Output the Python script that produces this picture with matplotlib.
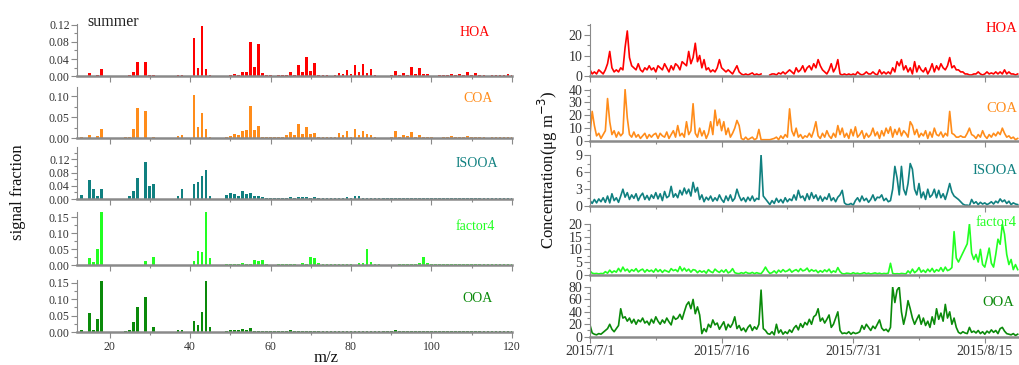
import numpy as np
import pandas as pd
import matplotlib
matplotlib.use('Agg')
import matplotlib.pyplot as plt
import matplotlib.dates as mdates
from matplotlib.ticker import FixedLocator, MultipleLocator, FuncFormatter, NullFormatter

plt.rcParams['font.family'] = ['Liberation Serif', 'DejaVu Serif']

# ---------------- data: mass spectra (m/z 12..120) ----------------
mz = list(range(12, 121))

hoa_ms = [
    0.001, 0.001, 0, 0.007, 0, 0.004, 0.016, 0, 0, 0,
    0, 0, 0.001, 0.002, 0.010, 0.033, 0, 0.034, 0.002, 0.004,
    0, 0, 0, 0, 0, 0.003, 0.004, 0, 0, 0.088,
    0.019, 0.117, 0.017, 0.004, 0, 0, 0, 0.001, 0.003, 0.005,
    0.003, 0.009, 0.009, 0.080, 0.021, 0.076, 0.008, 0.002, 0.002, 0,
    0.002, 0.003, 0.003, 0.009, 0.003, 0.027, 0.009, 0.044, 0.012, 0.032,
    0.004, 0.004, 0.003, 0, 0.002, 0.008, 0.005, 0.014, 0.005, 0.026,
    0.009, 0.028, 0.007, 0.016, 0.002, 0.001, 0, 0, 0.002, 0.012,
    0.003, 0.008, 0.004, 0.022, 0.006, 0.020, 0.005, 0.005, 0.001, 0,
    0.002, 0.003, 0.002, 0.006, 0.003, 0.005, 0.002, 0.011, 0.003, 0.007,
    0.002, 0.002, 0, 0.002, 0.002, 0.002, 0.003, 0.006, 0.002]

coa_ms = [
    0, 0.004, 0, 0.009, 0, 0.005, 0.021, 0, 0, 0,
    0, 0, 0.002, 0.004, 0.023, 0.072, 0, 0.065, 0.001, 0.004,
    0, 0, 0, 0, 0, 0.006, 0.009, 0, 0, 0.103,
    0.027, 0.061, 0.021, 0.004, 0, 0, 0.001, 0.002, 0.006, 0.010,
    0.007, 0.017, 0.019, 0.078, 0.020, 0.030, 0.004, 0.002, 0.004, 0.002,
    0.002, 0.004, 0.008, 0.015, 0.007, 0.033, 0.011, 0.026, 0.010, 0.013,
    0.003, 0.004, 0.002, 0.002, 0.002, 0.012, 0.009, 0.018, 0.004, 0.023,
    0.008, 0.017, 0.010, 0.008, 0.002, 0.001, 0.001, 0.001, 0.002, 0.017,
    0.004, 0.009, 0.005, 0.014, 0.004, 0.009, 0.004, 0.003, 0.002, 0.001,
    0.001, 0.002, 0.002, 0.005, 0.002, 0.004, 0.002, 0.005, 0.002, 0.003,
    0.002, 0.002, 0.001, 0.004, 0.002, 0.004, 0.002, 0.004, 0.002]

isooa_ms = [
    0, 0.012, 0, 0.056, 0.031, 0.009, 0.029, 0, 0, 0,
    0, 0, 0, 0.010, 0.023, 0.063, 0, 0.113, 0.039, 0.045,
    0, 0, 0, 0, 0, 0.010, 0.030, 0, 0, 0.045,
    0.050, 0.070, 0.088, 0.008, 0, 0, 0, 0.012, 0.017, 0.014,
    0.010, 0.023, 0.014, 0.018, 0.010, 0.008, 0.005, 0.004, 0.003, 0.002,
    0.002, 0.003, 0.003, 0.007, 0.004, 0.006, 0.005, 0.006, 0.004, 0.006,
    0.003, 0.003, 0.003, 0.003, 0.003, 0.003, 0.004, 0.005, 0.004, 0.009,
    0.010, 0.004, 0.003, 0.003, 0.002, 0.002, 0.002, 0.002, 0.002, 0.004,
    0.002, 0.002, 0.002, 0.002, 0.002, 0.002, 0.002, 0.002, 0.002, 0.002,
    0.002, 0.002, 0.002, 0.002, 0.002, 0.002, 0.002, 0.002, 0.002, 0.002,
    0.002, 0.002, 0.002, 0.002, 0.002, 0.002, 0.002, 0.002, 0.002]

factor4_ms = [
    0.002, 0.002, 0, 0.022, 0.010, 0.050, 0.165, 0, 0, 0,
    0, 0, 0.002, 0.002, 0.001, 0.002, 0, 0.013, 0, 0.026,
    0, 0, 0, 0, 0, 0.002, 0.002, 0, 0, 0.013,
    0.045, 0.040, 0.165, 0.022, 0, 0, 0.002, 0.003, 0.005, 0.005,
    0.004, 0.008, 0.005, 0.003, 0.015, 0.012, 0.018, 0.004, 0.002, 0.002,
    0.003, 0.003, 0.003, 0.003, 0.003, 0.002, 0.006, 0.005, 0.026, 0.022,
    0.006, 0.004, 0.003, 0.003, 0.003, 0.003, 0.004, 0.003, 0.003, 0.001,
    0.007, 0.006, 0.050, 0.010, 0.003, 0.003, 0.002, 0.002, 0.001, 0.001,
    0.003, 0.003, 0.004, 0.004, 0.005, 0.008, 0.027, 0.008, 0.005, 0.004,
    0.003, 0.004, 0.004, 0.003, 0.003, 0.003, 0.003, 0.004, 0.005, 0.004,
    0.004, 0.003, 0.003, 0.003, 0.003, 0.003, 0.003, 0.003, 0.003]

ooa_ms = [
    0, 0.008, 0, 0.058, 0.008, 0.040, 0.155, 0, 0, 0,
    0, 0, 0.003, 0.006, 0.030, 0.075, 0, 0.106, 0, 0.016,
    0, 0, 0, 0, 0, 0.006, 0.008, 0, 0, 0.034,
    0.022, 0.060, 0.155, 0.016, 0, 0, 0.002, 0.004, 0.007, 0.008,
    0.006, 0.010, 0.007, 0.014, 0.005, 0.003, 0.003, 0.003, 0.003, 0.003,
    0.003, 0.003, 0.003, 0.007, 0.003, 0.003, 0.004, 0.003, 0.003, 0.003,
    0.003, 0.003, 0.003, 0.003, 0.004, 0.004, 0.004, 0.005, 0.003, 0.003,
    0.003, 0.003, 0.003, 0.003, 0.003, 0.003, 0.003, 0.003, 0.003, 0.006,
    0.004, 0.003, 0.004, 0.003, 0.004, 0.003, 0.004, 0.003, 0.003, 0.003,
    0.004, 0.003, 0.003, 0.004, 0.004, 0.005, 0.004, 0.003, 0.003, 0.004,
    0.003, 0.003, 0.004, 0.005, 0.003, 0.003, 0.003, 0.004, 0.003]

# ---------------- data: time series (6-hourly from 2015-07-01) ----------------
ts_start = '2015-07-01'
ts_step = '6h'

hoa_ts = [
    3, 1, 2, 1, 3, 2, 1, 3,
    6, 12, 4, 2, 3, 2, 4, 3,
    14, 22, 9, 5, 4, 3, 6, 3,
    2, 4, 3, 5, 3, 4, 2, 5,
    4, 3, 6, 4, 2, 5, 3, 6,
    5, 3, 7, 6, 5, 12, 6, 9,
    16, 7, 10, 4, 8, 3, 4, 2,
    3, 2, 4, 8, 4, 3, 2, 3,
    2, 1, 3, 5, 2, 1, 0.5, 1,
    0.5, 1, 1.5, 0.5, 1, 0.5, 1, np.nan,
    np.nan, np.nan, 0.5, 1, 1, 0.5, 1.5, 1,
    2, 1, 2, 3, 2, 1, 4, 2,
    3, 5, 2, 4, 5, 3, 6, 4,
    8, 5, 3, 2, 1, 3, 6, 2,
    4, 8, 1, 0.5, 1, 0.5, 1, 0.5,
    1, 0.5, 2, 1, 0.5, 1, 2, 1,
    1, 2, 1, 0.5, 3, 1, 2, 1,
    2, 1, 4, 2, 7, 5, 8, 3,
    5, 2, 4, 1, 7, 2, 5, 3,
    2, 4, 1, 3, 6, 2, 5, 3,
    6, 4, 3, 5, 9, 4, 5, 3,
    3, 2, 2, 1, 1, 0.5, 0.5, 1,
    1, 2, 1, 0.5, 1, 2, 1, 1.5,
    1, 2, 1, 2, 1, 3, 1, 2,
    1, 1, 0.5, 1]

coa_ts = [
    5, 23, 12, 4, 6, 2, 5, 8,
    33, 15, 5, 8, 3, 7, 4, 6,
    40, 18, 5, 3, 7, 3, 5, 2,
    4, 6, 2, 5, 3, 5, 6, 2,
    6, 4, 3, 7, 2, 5, 8, 3,
    12, 4, 6, 3, 15, 5, 8, 29,
    6, 3, 10, 4, 8, 2, 6, 15,
    5, 24, 12, 17, 8, 15, 5, 10,
    3, 6, 10, 16, 12, 2, 1, 3,
    1, 2, 3, 1, 2, 9, 1, 1,
    1, 1, 1, 1.5, 2, 3, 1, 4,
    2, 5, 3, 25, 8, 4, 10, 3,
    5, 2, 4, 3, 6, 3, 8, 15,
    4, 2, 6, 3, 8, 4, 2, 6,
    3, 12, 5, 10, 3, 6, 2, 9,
    4, 11, 3, 5, 8, 2, 6, 3,
    5, 10, 4, 7, 2, 8, 4, 10,
    6, 11, 3, 9, 5, 10, 4, 8,
    6, 3, 15, 12, 5, 9, 3, 6,
    4, 8, 2, 7, 3, 10, 5, 4,
    7, 3, 6, 4, 23, 6, 5, 3,
    3, 4, 3, 3, 6, 10, 5, 4,
    2, 5, 3, 8, 4, 2, 5, 3,
    6, 4, 7, 5, 10, 6, 3, 4,
    2, 3, 1, 2]

isooa_ts = [
    1.0, 0.5, 1.2, 0.6, 1.3, 0.8, 1.5, 0.7,
    1.8, 0.6, 2.2, 1.0, 1.5, 0.7, 1.8, 3.0,
    1.6, 2.4, 1.2, 2.0, 1.4, 2.2, 1.0, 1.8,
    2.3, 1.2, 1.9, 1.1, 2.0, 1.4, 2.4, 1.3,
    2.2, 1.0, 2.6, 1.5, 1.8, 3.5, 1.6, 2.2,
    1.5, 2.8, 2.0, 3.2, 2.2, 3.0, 1.8, 4.2,
    2.5, 3.3, 1.2, 2.0, 0.8, 1.6, 1.1, 1.8,
    0.9, 1.5, 1.0, 2.0, 1.2, 0.7, 1.8, 1.0,
    2.0, 0.9, 1.4, 3.0, 1.8, 1.0, 1.5, 0.8,
    1.6, 1.0, 1.8, 0.9, 1.4, 1.2, 9.0, 1.8,
    1.3, 0.8, 0.3, 1.0, 0.5, 1.4, 0.7, 1.2,
    0.6, 1.5, 0.8, 1.3, 1.0, 2.0, 1.1, 2.8,
    1.5, 1.8, 1.0, 2.2, 1.2, 2.4, 1.4, 2.0,
    1.0, 1.8, 0.9, 1.6, 1.2, 2.2, 1.0, 1.5,
    0.8, 1.6, 2.0, 2.8, 0.6, 0.3, 0.3, 0.5,
    0.2, 1.0, 1.5, 0.8, 1.8, 1.0, 1.4, 0.7,
    1.2, 2.0, 1.0, 1.6, 1.5, 2.0, 1.0, 1.4,
    0.8, 1.0, 3.0, 7.0, 5.0, 2.0, 7.0, 3.0,
    2.0, 4.0, 7.5, 6.5, 3.0, 2.0, 4.0, 1.5,
    2.5, 1.2, 3.0, 1.6, 2.0, 3.0, 1.5, 2.8,
    1.5, 2.2, 1.2, 2.5, 4.0, 2.5, 1.8, 1.5,
    1.2, 0.8, 0.4, 0.2, 0.2, 0.1, 1.2, 0.5,
    0.8, 0.3, 0.7, 0.4, 0.6, 0.3, 0.5, 0.8,
    0.4, 0.9, 0.6, 1.3, 0.8, 1.1, 0.5, 0.9,
    0.3, 0.6, 0.4, 0.3]

factor4_ts = [
    1.5, 0.6, 0.4, 0.5, 0.3, 0.5, 0.4, 1.2,
    0.6, 1.8, 0.8, 1.5, 1.0, 2.5, 1.2, 3.0,
    1.5, 2.2, 1.0, 2.0, 1.4, 2.4, 1.1, 1.8,
    2.2, 1.0, 2.0, 1.3, 1.8, 1.0, 2.3, 1.2,
    2.0, 0.9, 1.8, 1.4, 1.0, 2.4, 1.6, 2.0,
    1.2, 3.2, 1.5, 2.6, 1.4, 2.2, 1.0, 2.0,
    1.8, 0.8, 1.6, 1.0, 1.5, 0.6, 2.0, 1.2,
    0.8, 2.2, 1.4, 0.9, 1.8, 1.0, 2.0, 0.7,
    1.2, 2.4, 0.8, 0.5, 0.4, 0.8, 0.5, 1.0,
    0.6, 0.5, 0.9, 0.4, 0.8, 0.5, 0.4, 1.5,
    3.0, 1.5, 0.5, 0.8, 1.5, 0.6, 1.8, 1.0,
    2.0, 1.2, 1.5, 2.2, 1.0, 1.6, 2.0, 1.2,
    2.4, 1.5, 1.8, 2.6, 1.2, 2.0, 1.4, 1.8,
    0.8, 1.6, 1.0, 1.9, 1.2, 2.2, 0.8, 1.5,
    1.0, 2.8, 1.2, 0.4, 0.3, 0.6, 0.5, 0.3,
    0.8, 0.4, 0.6, 0.3, 0.5, 0.8, 0.4, 0.6,
    0.3, 0.5, 0.7, 0.4, 0.6, 0.3, 0.5, 0.4,
    0.6, 4.5, 0.5, 0.3, 0.4, 0.3, 0.5, 0.4,
    0.3, 1.5, 0.6, 2.2, 0.8, 1.5, 2.8, 1.0,
    1.8, 0.9, 2.2, 1.2, 2.5, 1.0, 2.0, 1.4,
    2.8, 1.3, 3.0, 1.6, 2.0, 2.8, 17.0, 6.6,
    5.0, 6.8, 8.6, 10.4, 12.2, 20.0, 8.5, 6.0,
    8.0, 5.0, 10.0, 4.0, 3.0, 6.6, 10.5, 4.5,
    3.0, 8.0, 14.0, 12.0, 20.0, 16.0, 8.0, 4.0,
    6.0, 2.0, 4.0, 2.0]

ooa_ts = [
    19, 6, 4, 3, 5, 4, 7, 10,
    13, 20, 12, 8, 13, 18, 45, 30,
    32, 25, 30, 22, 28, 20, 27, 24,
    30, 22, 25, 19, 28, 22, 32, 25,
    20, 27, 22, 30, 24, 19, 33, 28,
    30, 36, 28, 40, 51, 56, 45, 60,
    37, 48, 35, 5, 13, 8, 20, 15,
    27, 19, 22, 12, 18, 24, 11, 20,
    15, 21, 32, 13, 18, 10, 14, 8,
    15, 19, 10, 16, 12, 20, 75, 13,
    10, 5, 4, 8, 3, 20, 6, 11,
    4, 8, 5, 11, 7, 14, 18, 11,
    21, 15, 23, 19, 28, 20, 32, 35,
    45, 25, 30, 22, 28, 35, 15, 20,
    30, 40, 10, 5, 6, 5, 8, 4,
    7, 5, 6, 8, 18, 12, 20, 15,
    10, 17, 13, 20, 27, 14, 10, 12,
    8, 15, 80, 55, 75, 80, 40, 20,
    35, 58, 45, 30, 20, 28, 35, 20,
    30, 18, 25, 15, 32, 20, 45, 28,
    38, 25, 52, 30, 40, 20, 30, 15,
    7, 5, 8, 6, 5, 15, 7, 9,
    6, 10, 5, 8, 4, 9, 6, 11,
    7, 10, 5, 13, 15, 9, 5, 4,
    3, 5, 2, 4]

names = ['HOA', 'COA', 'ISOOA', 'factor4', 'OOA']
colors = ['#ff0000', '#ff8c1a', '#108080', '#22ff22', '#0a8a0a']
spectra = [hoa_ms, coa_ms, isooa_ms, factor4_ms, ooa_ms]
series = [hoa_ts, coa_ts, isooa_ts, factor4_ts, ooa_ts]

# ---------------- layout ----------------
W, H = 1019, 365
fig = plt.figure(figsize=(W / 100, H / 100), dpi=100)


def rect(x0, yt, x1, yb):
    return [x0 / W, 1 - yb / H, (x1 - x0) / W, (yb - yt) / H]


GRAY = '#8a8a8a'
TXT = '#333333'

left_rows = [(24, 76.3), (87, 138.3), (147, 199), (212, 265.3), (280, 332.3)]
left_ylim = [0.1216, 0.122, 0.157, 0.166, 0.158]
left_major = [[0, 0.04, 0.08, 0.12], [0, 0.05, 0.10], [0, 0.04, 0.08, 0.12],
              [0, 0.05, 0.10, 0.15], [0, 0.05, 0.10, 0.15]]
left_minor = [0.02, 0.025, 0.02, 0.025, 0.025]
left_lab_xy = [(460, 32), (463, 99), (456, 163), (456, 227), (462, 298)]

right_rows = [(24, 76), (89.3, 141), (155, 206.3), (224, 274.7), (287, 336.7)]
right_ylim = [25.4, 40.2, 9.0, 20.0, 80.0]
right_major = [[0, 10, 20], [0, 10, 20, 30, 40], [0, 3, 6, 9],
               [0, 5, 10, 15, 20], [0, 20, 40, 60, 80]]
right_minor = [5, 5, 1.5, 2.5, 10]
right_lab_xy = [(1017, 29), (1017, 108), (1017, 170), (1017, 222), (1014, 303)]


def style(ax):
    for s in ['top', 'right']:
        ax.spines[s].set_visible(False)
    ax.spines['left'].set_color(GRAY)
    ax.spines['left'].set_linewidth(0.8)
    ax.spines['bottom'].set_color(GRAY)
    ax.spines['bottom'].set_linewidth(1.8)
    ax.tick_params(axis='both', which='both', direction='out', color=GRAY,
                   width=0.8, labelcolor=TXT)
    ax.tick_params(axis='both', which='major', length=4)
    ax.tick_params(axis='both', which='minor', length=2)


# left: mass spectra
for i in range(5):
    ax = fig.add_axes(rect(77.3, left_rows[i][0], 512, left_rows[i][1]))
    ax.bar(mz, spectra[i], width=0.65, color=colors[i], linewidth=0)
    ax.set_xlim(12, 120)
    ax.set_ylim(0, left_ylim[i])
    style(ax)
    ax.yaxis.set_major_locator(FixedLocator(left_major[i]))
    ax.yaxis.set_minor_locator(MultipleLocator(left_minor[i]))
    ax.yaxis.set_major_formatter(FuncFormatter(lambda v, p: f'{v:.2f}'))
    ax.xaxis.set_major_locator(FixedLocator([20, 40, 60, 80, 100, 120]))
    ax.xaxis.set_minor_locator(FixedLocator([30, 50, 70, 90, 110]))
    ax.tick_params(axis='y', labelsize=8.5, pad=1.5)
    ax.tick_params(axis='x', labelsize=8.5, pad=2)
    if i < 4:
        ax.xaxis.set_major_formatter(NullFormatter())
    fig.text(left_lab_xy[i][0] / W, 1 - left_lab_xy[i][1] / H, names[i],
             color=colors[i], fontsize=10, va='center', ha='left')

fig.text(87 / W, 1 - 22 / H, 'summer', color='#222222', fontsize=11.5,
         va='center', ha='left')
fig.text(18 / W, 1 - 192 / H, 'signal fraction', rotation=90, fontsize=12,
         va='center', ha='center', color='#111111')
fig.text(326 / W, 1 - 358 / H, 'm/z', fontsize=12, va='center', ha='center',
         color='#111111')

# right: time series
times = pd.date_range(ts_start, periods=len(hoa_ts), freq=ts_step)
t0 = pd.Timestamp('2015-07-01')
t1 = t0 + pd.Timedelta(days=48.9)
major_dates = [pd.Timestamp('2015-07-01'), pd.Timestamp('2015-07-16'),
               pd.Timestamp('2015-07-31'), pd.Timestamp('2015-08-15')]
minor_dates = [d + pd.Timedelta(days=7.5) for d in major_dates]


def date_fmt(v, p):
    d = mdates.num2date(v)
    return f'{d.year}/{d.month}/{d.day}'


for i in range(5):
    ax = fig.add_axes(rect(590, right_rows[i][0], 1019, right_rows[i][1]))
    ax.plot(times, series[i], color=colors[i], lw=1.2)
    ax.set_xlim(t0, t1)
    ax.set_ylim(0, right_ylim[i])
    style(ax)
    ax.yaxis.set_major_locator(FixedLocator(right_major[i]))
    ax.yaxis.set_minor_locator(MultipleLocator(right_minor[i]))
    ax.xaxis.set_major_locator(FixedLocator(mdates.date2num(major_dates)))
    ax.xaxis.set_minor_locator(FixedLocator(mdates.date2num(minor_dates)))
    ax.xaxis.set_major_formatter(FuncFormatter(date_fmt))
    ax.tick_params(axis='y', labelsize=10, pad=1.5)
    ax.tick_params(axis='x', labelsize=10, pad=2)
    if i < 4:
        ax.xaxis.set_major_formatter(NullFormatter())
    fig.text(right_lab_xy[i][0] / W, 1 - right_lab_xy[i][1] / H, names[i],
             color=colors[i], fontsize=10.5, va='center', ha='right')

fig.text(548 / W, 1 - 170 / H, 'Concentration(μg m$^{-3}$)', rotation=90,
         fontsize=12, va='center', ha='center', color='#111111')

fig.savefig('out.png', dpi=100)
